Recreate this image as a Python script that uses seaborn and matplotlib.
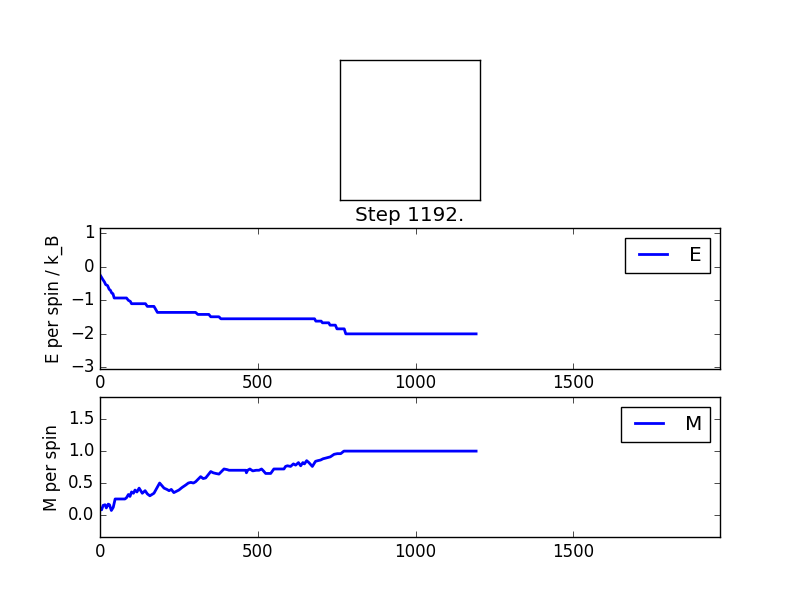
import numpy as np
import pandas as pd
import matplotlib
matplotlib.use("Agg")
import matplotlib.pyplot as plt
import seaborn as sns

plt.style.use("classic")

e_steps = [0, 4, 9, 14, 18, 24, 29, 33, 37, 41, 45, 84, 90, 96, 100, 144, 150, 171, 176, 182,
           303, 310, 345, 351, 377, 383, 680, 684, 701, 705, 725, 729, 746, 751, 774, 779, 1192]
e_vals = [-0.24, -0.30, -0.38, -0.45, -0.53, -0.56, -0.67, -0.70, -0.78, -0.80, -0.93, -0.93,
          -1.00, -1.03, -1.10, -1.10, -1.18, -1.18, -1.26, -1.36, -1.36, -1.42, -1.42, -1.49,
          -1.49, -1.55, -1.55, -1.62, -1.62, -1.67, -1.67, -1.74, -1.74, -1.85, -1.85, -2.00, -2.00]

# magnetisation per spin
m_steps = [0, 5, 10, 16, 20, 26, 30, 36, 42, 48, 79, 84, 90, 95, 100, 106, 111, 117, 124, 134,
           143, 150, 158, 171, 180, 189, 196, 203, 212, 219, 226, 234, 242, 250, 260, 272, 280,
           288, 296, 303, 311, 319, 327, 335, 343, 351, 359, 367, 377, 385, 393, 403, 409, 462,
           464, 468, 475, 484, 495, 504, 512, 518, 525, 541, 551, 583, 588, 594, 604, 613, 620,
           629, 636, 643, 648, 655, 662, 673, 683, 690, 699, 707, 715, 730, 742, 752, 763, 773, 1192]
m_vals = [0.10, 0.08, 0.15, 0.16, 0.11, 0.17, 0.16, 0.07, 0.12, 0.25, 0.25, 0.27, 0.32, 0.29,
          0.36, 0.34, 0.39, 0.36, 0.42, 0.34, 0.38, 0.33, 0.30, 0.34, 0.42, 0.50, 0.46, 0.42,
          0.40, 0.38, 0.40, 0.35, 0.37, 0.39, 0.43, 0.47, 0.50, 0.51, 0.50, 0.52, 0.56, 0.60,
          0.57, 0.58, 0.63, 0.68, 0.66, 0.65, 0.64, 0.68, 0.72, 0.71, 0.70, 0.70, 0.66, 0.70,
          0.72, 0.69, 0.70, 0.70, 0.72, 0.69, 0.65, 0.65, 0.72, 0.72, 0.76, 0.77, 0.76, 0.80,
          0.78, 0.82, 0.77, 0.82, 0.80, 0.85, 0.82, 0.76, 0.84, 0.85, 0.86, 0.88, 0.89, 0.91,
          0.95, 0.96, 0.96, 1.00, 1.00]

# final lattice: every spin up
spins = np.ones((20, 20))
step_now = 1192

df_e = pd.DataFrame({"step": e_steps, "E": e_vals})
df_m = pd.DataFrame({"step": m_steps, "M": m_vals})

fig, (ax0, ax1, ax2) = plt.subplots(3, 1, figsize=(8, 5.97), dpi=100)
fig.patch.set_facecolor("white")

ax0.imshow(spins, cmap="gray", vmin=-1, vmax=1, interpolation="nearest")
ax0.set_xticks([])
ax0.set_yticks([])

sns.lineplot(data=df_e, x="step", y="E", ax=ax1, color="b", lw=2, label="E",
             estimator=None, sort=False)
ax1.set_xlim(0, 1965)
ax1.set_ylim(-3.04, 1.15)
ax1.set_xlabel("")
ax1.set_ylabel("E per spin / k_B")
ax1.set_title("Step %d." % step_now)
ax1.legend(loc="upper right")

sns.lineplot(data=df_m, x="step", y="M", ax=ax2, color="b", lw=2, label="M",
             estimator=None, sort=False)
ax2.set_xlim(0, 1965)
ax2.set_ylim(-0.35, 1.85)
ax2.set_yticks([0.0, 0.5, 1.0, 1.5])
ax2.set_xlabel("")
ax2.set_ylabel("M per spin")
ax2.legend(loc="upper right")

fig.savefig("out.png", dpi=100, facecolor="white")
